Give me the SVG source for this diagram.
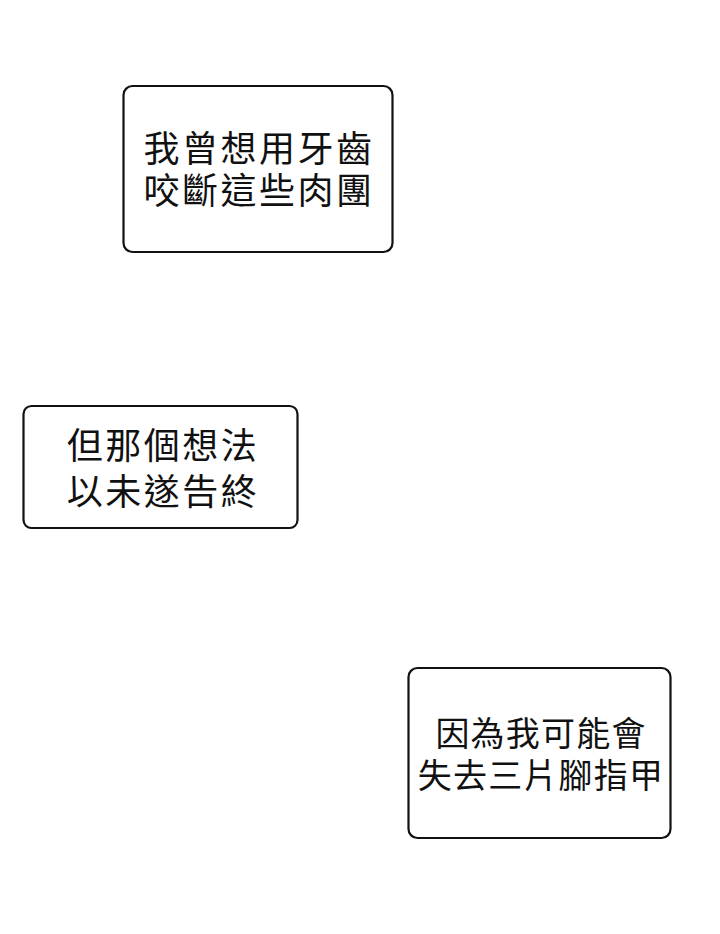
<svg xmlns="http://www.w3.org/2000/svg" width="720" height="934" viewBox="0 0 720 934">
<style>
.box{fill:#fff;stroke:#111;stroke-width:2.2}
.t{font-family:"Noto Sans CJK TC","Noto Sans CJK SC",sans-serif;fill:#111;text-anchor:middle;dominant-baseline:central}
.a{font-size:36px;letter-spacing:2.5px}
.c{font-size:34px;letter-spacing:1.2px}
</style>
<rect width="720" height="934" fill="#fff"/>
<g id="node1">
<rect class="box" x="123.5" y="86" width="269" height="166" rx="9"/>
<text class="t a"><tspan x="259" y="146">我曾想用牙齒</tspan><tspan x="259" y="188">咬斷這些肉團</tspan></text>
</g>
<g id="node2">
<rect class="box" x="23.5" y="406" width="274" height="122" rx="8"/>
<text class="t a"><tspan x="163" y="442.5">但那個想法</tspan><tspan x="163" y="489">以未遂告終</tspan></text>
</g>
<g id="node3">
<rect class="box" x="408.5" y="668" width="262" height="170" rx="9"/>
<text class="t c"><tspan x="541" y="731">因為我可能會</tspan><tspan x="541" y="772.5">失去三片腳指甲</tspan></text>
</g>
<g id="connectors"></g>
</svg>
